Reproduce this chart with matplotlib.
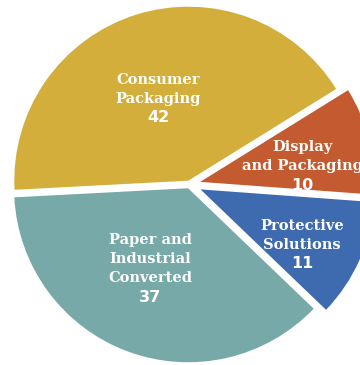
#!/usr/bin/env python3

import matplotlib
matplotlib.use('Agg')
import matplotlib.pyplot as plt

# segment shares, percent
segments = ['Consumer\nPackaging', 'Paper and\nIndustrial\nConverted',
            'Protective\nSolutions', 'Display\nand Packaging']
values = [42, 37, 11, 10]
colors = ['#d4ae3a', '#76a9a8', '#3e6bb0', '#c45a30']
explode = [4, 4, 12, 11]   # pixels

# label anchor (x, y of the top line) in pixel units, y going up
label_pos = [(158, 285), (150, 125), (302, 139), (302, 218)]

if __name__ == '__main__':
    W, H = 360, 365
    fig = plt.figure(figsize=(W / 100, H / 100), dpi=100)
    ax = fig.add_axes([0, 0, 1, 1])

    r = 174
    ax.pie(values, colors=colors, explode=explode, radius=r,
           center=(189.5, 180.5), startangle=31.8, counterclock=True,
           wedgeprops=dict(linewidth=0))

    for name, v, (x, y) in zip(segments, values, label_pos):
        lines = name.split('\n')
        for i, line in enumerate(lines):
            ax.text(x, y - 19 * i, line, ha='center', va='center',
                    color='white', fontsize=10.5, fontweight='bold',
                    family='DejaVu Serif')
        ax.text(x, y - 19 * len(lines), str(v), ha='center', va='center',
                color='white', fontsize=11.5, fontweight='bold',
                family='DejaVu Sans')

    ax.set_xlim(0, W)
    ax.set_ylim(0, H)
    ax.set_aspect('equal')
    ax.axis('off')

    fig.savefig('out.png', dpi=100)
